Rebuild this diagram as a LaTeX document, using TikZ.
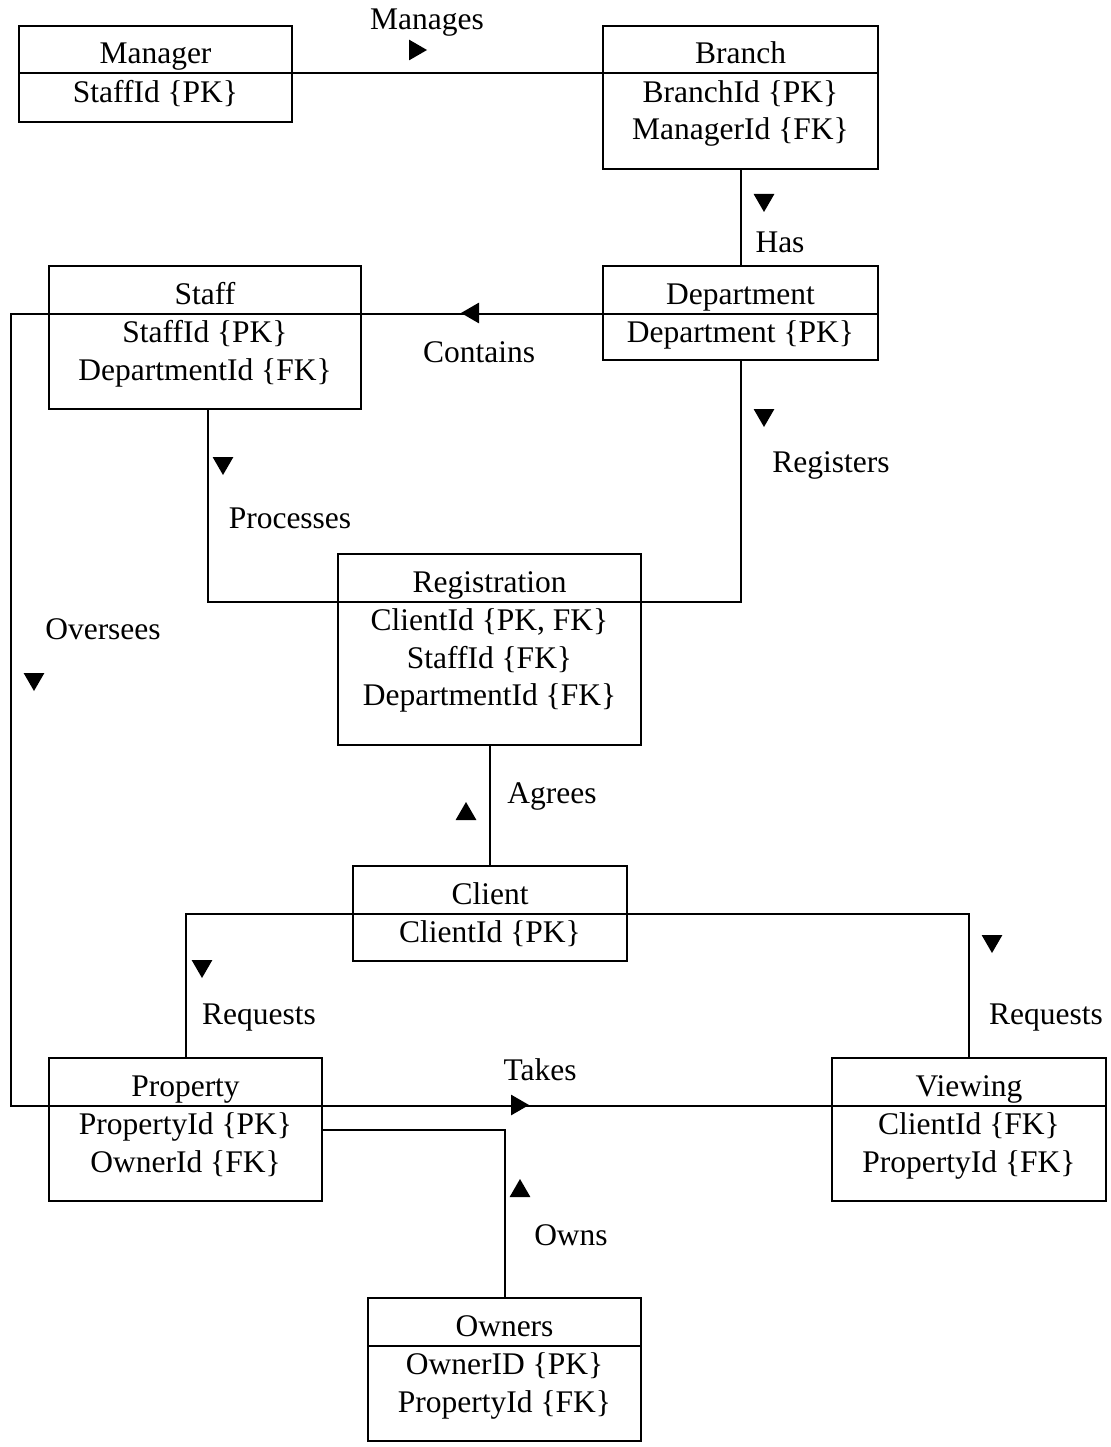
\documentclass[tikz,border=0pt]{standalone}
\usepackage{fontspec}
\setmainfont{Liberation Serif}
\usetikzlibrary{shapes.geometric,calc}

% One entity: name, left, top, right, bottom, title, attribute list
\newcommand{\erentity}[7]{%
  \node[entity, minimum width={(#4-#2)*1pt}, minimum height={(#5-#3)*1pt}] (#1) at (#2,#3) {};
  \node[txt] (#1-title) at ($(#1.north)+(0,38)$) {#6};
  \coordinate (#1-dw) at ($(#1.north west)+(0,47.5)$);
  \coordinate (#1-de) at ($(#1.north east)+(0,47.5)$);
  \draw (#1-dw) -- (#1-de);
  \foreach \attrtext [count=\idx] in {#7}
    \node[txt] (#1-a\idx) at ($(#1.north)+(0,{39+37.5*\idx})$) {\attrtext};
}

\begin{document}
\begin{tikzpicture}[x=1pt,y=-1pt,
  line width=2pt,
  entity/.style={draw, rectangle, inner sep=0pt, outer sep=0pt, anchor=north west},
  txt/.style={font=\fontsize{31.5}{37.5}\selectfont, inner sep=0pt, outer sep=0pt, anchor=base},
  tri/.style={regular polygon, regular polygon sides=3, fill=black, draw=none,
              inner sep=0pt, minimum size=24pt},
  tdown/.style={tri, regular polygon rotate=180, yshift=3pt},
  tup/.style={tri, yshift=-3pt},
  tright/.style={tri, regular polygon rotate=-90, xshift=-3pt},
  tleft/.style={tri, regular polygon rotate=90, xshift=3pt}]

\fill[white] (0,0) rectangle (1110,1447);
\useasboundingbox (0,0) rectangle (1110,1447);

% entities
\erentity{manager}{19}{26}{292}{122}{Manager}{{StaffId \{PK\}}}
\erentity{branch}{603}{26}{878}{169}{Branch}{{BranchId \{PK\}},{ManagerId \{FK\}}}
\erentity{staff}{49}{266}{361}{409}{Staff}{{StaffId \{PK\}},{DepartmentId \{FK\}}}
\erentity{department}{603}{266}{878}{360}{Department}{{Department \{PK\}}}
\erentity{registration}{338}{554}{641}{745}{Registration}{{ClientId \{PK, FK\}},{StaffId \{FK\}},{DepartmentId \{FK\}}}
\erentity{client}{353}{866}{627}{961}{Client}{{ClientId \{PK\}}}
\erentity{property}{49}{1058}{322}{1201}{Property}{{PropertyId \{PK\}},{OwnerId \{FK\}}}
\erentity{viewing}{832}{1058}{1106}{1201}{Viewing}{{ClientId \{FK\}},{PropertyId \{FK\}}}
\erentity{owners}{368}{1298}{641}{1441}{Owners}{{OwnerID \{PK\}},{PropertyId \{FK\}}}

% relationships
\draw (manager-de) -- (branch-dw);
\draw (branch.south) -- (department.north);
\draw (department-dw) -- (staff-de);
\draw (department.south) |- (registration-de);
\coordinate (staff-out) at ($(staff.south)+(3,0)$);
\draw (staff-out) |- (registration-dw);
\coordinate (oversee-x) at (11,0);
\draw (staff-dw) -- (staff-dw -| oversee-x) -- (property-dw -| oversee-x) -- (property-dw);
\draw (client.north) -- (client.north |- registration.south);
\draw (client-dw) -| (property.north);
\draw (client-de) -| (viewing.north);
\draw (property-de) -- (viewing-dw);
\draw (property.east) -| (owners.north);

% relationship names
\node[txt] (l-manages) at (427,30) {Manages};
\node[txt] (l-has) at (780,252) {Has};
\node[txt] (l-contains) at (479,362) {Contains};
\node[txt] (l-registers) at (831,472) {Registers};
\node[txt] (l-processes) at (290,528) {Processes};
\node[txt] (l-oversees) at (103,639) {Oversees};
\node[txt] (l-agrees) at (552,803) {Agrees};
\node[txt] (l-requests1) at (259,1024) {Requests};
\node[txt] (l-requests2) at (1046,1024) {Requests};
\node[txt] (l-takes) at (540,1080) {Takes};
\node[txt] (l-owns) at (571,1245) {Owns};

% reading-direction markers
\node[tright] (d-manages) at (418,50) {};
\node[tdown] (d-has) at (764,203) {};
\node[tleft] (d-contains) at (470,313) {};
\node[tdown] (d-registers) at (764,418) {};
\node[tdown] (d-processes) at (223,466) {};
\node[tdown] (d-oversees) at (34,682) {};
\node[tup] (d-agrees) at (466,811) {};
\node[tdown] (d-requests1) at (202,969) {};
\node[tdown] (d-requests2) at (992,944) {};
\node[tright] (d-takes) at (520,1105) {};
\node[tup] (d-owns) at (520,1188) {};

\end{tikzpicture}
\end{document}
